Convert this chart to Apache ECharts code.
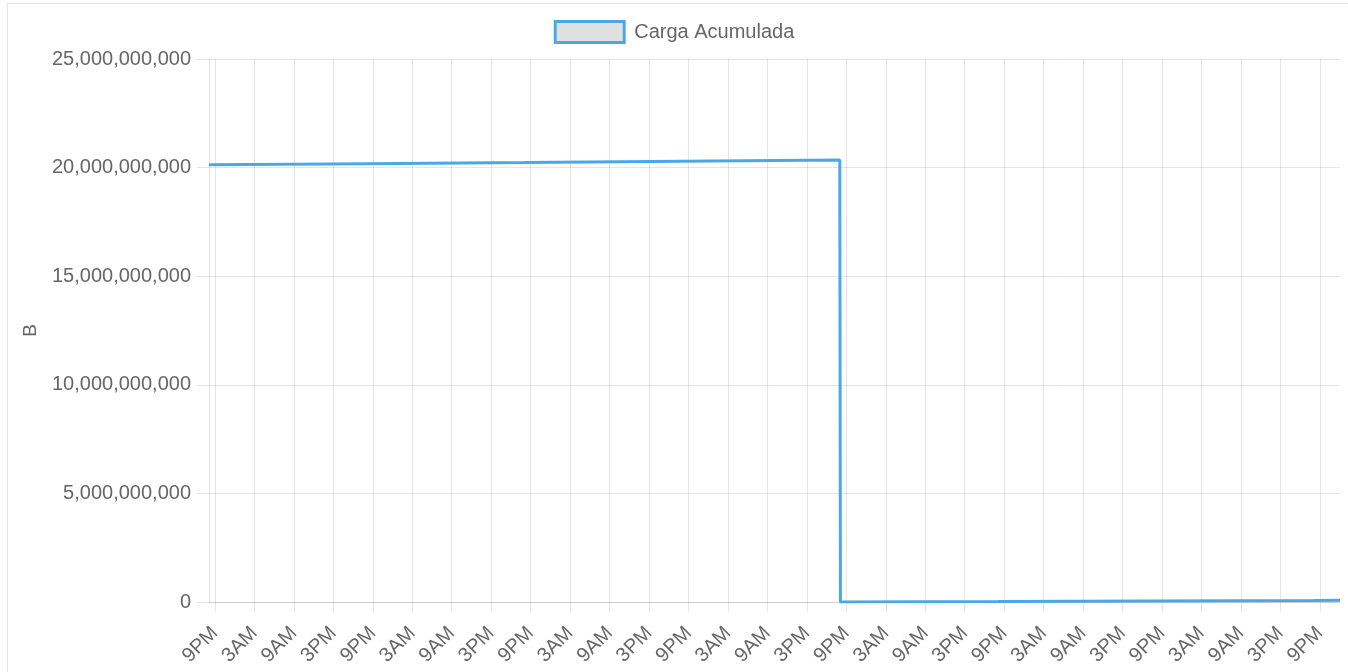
<!DOCTYPE html>
<html>
<head>
<meta charset="utf-8">
<script src="https://cdn.jsdelivr.net/npm/echarts@6/dist/echarts.min.js"></script>
<style>
  html, body { margin: 0; padding: 0; background: #fff; }
  #frame { position: absolute; left: 7px; top: 3px; width: 1345px; height: 680px; border: 1px solid #e6e6e6; box-sizing: border-box; }
  #chart { position: absolute; left: 0; top: 0; width: 1348px; height: 672px; }
</style>
</head>
<body>
<div id="frame"></div>
<div id="chart"></div>
<script>
// Hours relative to the first "9PM" tick
const tickHours = [0,6,12,18,24,30,36,42,48,54,60,66,72,78,84,90,96,102,108,114,120,126,132,138,144,150,156,162,168];
const tickLabels = ['9PM','3AM','9AM','3PM','9PM','3AM','9AM','3PM','9PM','3AM','9AM','3PM','9PM','3AM','9AM','3PM','9PM','3AM','9AM','3PM','9PM','3AM','9AM','3PM','9PM','3AM','9AM','3PM','9PM'];
// Carga Acumulada samples (hours, bytes)
const sampleHours = [-0.91, 23.1, 47.1, 71.1, 95.0, 95.1, 119.1, 143.1, 167.1, 171.06];
const cargaValues = [20.13e9, 20.18e9, 20.23e9, 20.29e9, 20.35e9, 0.005e9, 0.02e9, 0.045e9, 0.07e9, 0.08e9];
const yTicks = { min: 0, max: 25e9, interval: 5e9 };

const font = 'Liberation Sans, Arial, sans-serif';
const gridColor = 'rgba(0,0,0,0.1)';
const chart = echarts.init(document.getElementById('chart'));
chart.setOption({
  animation: false,
  legend: {
    top: 15, left: 'center',
    icon: 'rect', itemWidth: 69, itemHeight: 21,
    itemStyle: { color: '#e0e0e0', borderColor: '#4aa8e8', borderWidth: 3 },
    textStyle: { color: '#666', fontSize: 20, fontFamily: font, padding: [0, 0, 0, 5] },
    data: ['Carga Acumulada']
  },
  grid: { left: 209, right: 8, top: 59, bottom: 70, containLabel: false },
  xAxis: {
    type: 'value',
    min: sampleHours[0], max: sampleHours[sampleHours.length - 1],
    axisLine: { show: true, onZero: false, lineStyle: { color: gridColor, width: 1 } },
    axisTick: { show: true, customValues: tickHours, length: 10, lineStyle: { color: gridColor } },
    splitLine: { show: true, lineStyle: { color: gridColor } },
    axisLabel: {
      customValues: tickHours, rotate: 45, margin: 28,
      color: '#666', fontSize: 20, fontFamily: font,
      formatter: v => tickLabels[Math.round(v / 6)]
    }
  },
  yAxis: {
    type: 'value', min: yTicks.min, max: yTicks.max, interval: yTicks.interval,
    name: 'B', nameLocation: 'middle', nameGap: 169, nameRotate: 90,
    nameTextStyle: { color: '#666', fontSize: 19, fontFamily: font },
    axisLine: { show: true, onZero: false, lineStyle: { color: gridColor } },
    axisTick: { show: true, length: 12, lineStyle: { color: gridColor } },
    splitLine: { show: true, lineStyle: { color: gridColor } },
    axisLabel: {
      color: '#666', fontSize: 20, fontFamily: font, margin: 18,
      formatter: v => v.toLocaleString('en-US')
    }
  },
  series: [{
    name: 'Carga Acumulada',
    type: 'line',
    data: sampleHours.map((h, i) => [h, cargaValues[i]]),
    showSymbol: false,
    lineStyle: { color: '#4aa8e8', width: 3 },
    itemStyle: { color: '#4aa8e8' }
  }]
});
</script>
</body>
</html>
